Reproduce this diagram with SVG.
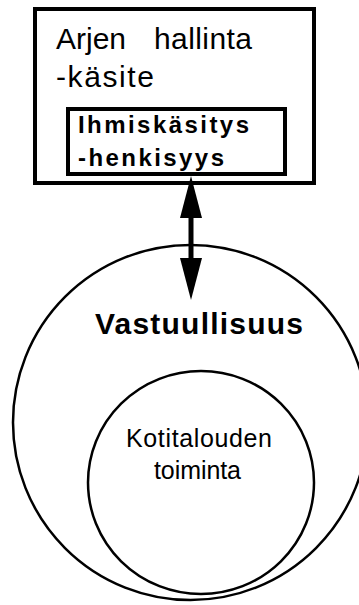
<svg xmlns="http://www.w3.org/2000/svg" width="359" height="605" viewBox="0 0 359 605">
<style>
text{font-family:"Liberation Sans",Arial,sans-serif;fill:#000}
.big{font-size:30px}
.bold{font-weight:bold}
.box{fill:#fff;stroke:#000;stroke-width:4}
.ring{fill:none;stroke:#000;stroke-width:2.5}
</style>
<defs>
<marker id="ah" markerUnits="userSpaceOnUse" viewBox="0 0 42 22" markerWidth="42" markerHeight="22" refX="0" refY="11" orient="auto-start-reverse">
<path d="M0,0 L42,11 L0,22 z" fill="#000"/>
</marker>
</defs>
<rect x="0" y="0" width="359" height="605" fill="#fff"/>
<g id="vastuullisuus">
<circle class="ring" cx="190.5" cy="422.5" r="177.5"/>
<text class="bold" x="95" y="334" font-size="30" textLength="208" lengthAdjust="spacing">Vastuullisuus</text>
</g>
<g id="kotitalouden-toiminta">
<ellipse class="ring" cx="201" cy="482.5" rx="113" ry="111.5"/>
<text x="126" y="447" font-size="25" textLength="146" lengthAdjust="spacing">Kotitalouden</text>
<text x="154" y="479" font-size="25" textLength="87" lengthAdjust="spacing">toiminta</text>
</g>
<g id="arjen-hallinta">
<rect class="box" x="35" y="9" width="279" height="174"/>
<text class="big" x="56" y="49">Arjen <tspan x="154" textLength="98" lengthAdjust="spacing">hallinta</tspan></text>
<text class="big" x="56" y="87" textLength="98" lengthAdjust="spacing">-käsite</text>
</g>
<g id="ihmiskasitys">
<rect class="box" x="68" y="109" width="217" height="65" stroke-width="3.5"/>
<text class="bold" x="78" y="133" font-size="24" textLength="171" lengthAdjust="spacing">Ihmiskäsitys</text>
<text class="bold" x="78" y="166" font-size="24" textLength="146" lengthAdjust="spacing">-henkisyys</text>
</g>
<g id="connectors">
<line x1="191" y1="218" x2="191" y2="258" stroke="#000" stroke-width="5" marker-start="url(#ah)" marker-end="url(#ah)"/>
</g>
</svg>
